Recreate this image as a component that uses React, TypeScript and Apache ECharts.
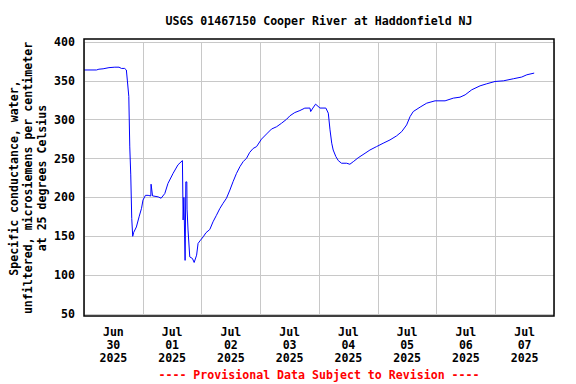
import React, { useEffect, useRef } from "react";
import * as echarts from "echarts";

const titleText = "USGS 01467150 Cooper River at Haddonfield NJ";
const yAxisTitle = "Specific conductance, water,\nunfiltered, microsiemens per centimeter\nat 25 degrees Celsius";
const footerText = "---- Provisional Data Subject to Revision ----";
const dayLabels = [
  "Jun\n30\n2025",
  "Jul\n01\n2025",
  "Jul\n02\n2025",
  "Jul\n03\n2025",
  "Jul\n04\n2025",
  "Jul\n05\n2025",
  "Jul\n06\n2025",
  "Jul\n07\n2025",
];
// hours since Jun 30 00:00
const hours = [
  0, 5.1, 6.1, 7.8, 10.2, 12.6, 14.3, 15.3, 16.6, 17.3, 17.7, 18.3, 18.7, 19.1, 19.5, 19.9,
  20.3, 21.4, 22.5, 23.5, 24.1, 25.1, 26.2, 27.3, 27.4, 28.0, 30.3, 31.5, 33.0, 34.3, 36.4,
  38.4, 40.2, 40.5, 40.8, 41.3, 41.6, 42.0, 42.1, 42.5, 43.2, 44.3, 45.0, 46.0, 46.6, 47.6,
  48.7, 49.8, 51.4, 52.7, 54.1, 55.5, 56.8, 58.2, 59.6, 60.9, 62.3, 63.7, 65.0, 66.4, 67.7,
  69.1, 70.5, 72.5, 74.6, 76.6, 78.7, 80.7, 82.8, 84.1, 86.1, 88.2, 90.2, 92.3, 92.6, 93.5,
  94.6, 96.4, 98.8, 99.8, 100.5, 101.2, 101.8, 102.9, 103.9, 105.2, 107.3, 108.6, 110.0,
  112.0, 114.8, 116.8, 119.5, 122.2, 125.0, 127.7, 129.8, 131.8, 133.2, 134.5, 137.3, 140.0,
  143.4, 147.5, 150.9, 153.6, 155.7, 158.4, 161.8, 164.5, 167.9, 171.3, 175.4, 178.8, 180.9,
  183.9,
];
const conductance = [
  364, 364, 365, 365.5, 367, 367.6, 367.6, 366, 366, 364, 351, 330, 265, 229, 173, 150,
  155, 162, 175, 186, 196.6, 202.7, 202.7, 201.8, 217, 202, 200.7, 199, 205, 218, 231,
  242, 247.4, 171, 200, 119, 220, 220, 185, 158, 123.5, 121.4, 116.3, 125.7, 140.8, 145,
  149.3, 154.5, 158.8, 168.6, 177, 185.8, 192.4, 199, 209.5, 220.3, 231, 239.6, 246, 250.4, 258,
  263, 265.4, 275, 281.7, 288, 291, 295.5, 300.7, 305, 309.2, 311.8, 314.9, 315, 310.5, 315,
  320, 315, 315, 308.4, 287, 269.8, 261, 252.5, 247.3, 244, 244, 242.7, 246,
  251, 256.8, 261, 265.4, 269.7, 274, 279.2, 284.7, 293.3, 304, 310.5, 316.2, 321.3,
  324.3, 324.3, 327.8, 329, 332, 338.5, 343.6, 346.2, 349.2, 350, 352.7, 354.9, 357.8,
  360,
];

const FONT = "'DejaVu Sans Mono', monospace";
const FS = 11.6;

export default function App() {
  const ref = useRef<HTMLDivElement>(null);
  useEffect(() => {
    if (!ref.current) return;
    const chart = echarts.init(ref.current, null, { renderer: "svg" });
    const data = hours.map((h, i) => [h, conductance[i]]);
    chart.setOption({
      animation: false,
      backgroundColor: "#ffffff",
      grid: { left: 84, right: 22, top: 42, bottom: 70, containLabel: false },
      xAxis: [
        { type: "value", min: 0, max: 192, show: false },
        {
          type: "category",
          data: dayLabels,
          boundaryGap: true,
          position: "bottom",
          axisLine: { show: false },
          axisTick: { show: false },
          axisLabel: {
            interval: 0,
            margin: 11,
            fontFamily: FONT,
            fontSize: FS,
            fontWeight: "bold",
            color: "#000",
            lineHeight: 13,
          },
          splitLine: { show: true, interval: 0, lineStyle: { color: "#c8c8c8", width: 1 } },
        },
      ],
      yAxis: {
        type: "value",
        min: 50,
        max: 400,
        interval: 50,
        axisLine: { show: false },
        axisTick: { show: false },
        axisLabel: {
          margin: 9,
          fontFamily: FONT,
          fontSize: FS,
          fontWeight: "bold",
          color: "#000",
        },
        splitLine: { show: true, lineStyle: { color: "#c8c8c8", width: 1 } },
      },
      series: [
        {
          type: "line",
          xAxisIndex: 0,
          data,
          showSymbol: false,
          symbol: "none",
          lineStyle: { color: "#0000ff", width: 1 },
        },
      ],
      graphic: [
        {
          type: "rect",
          shape: { x: 84, y: 39, width: 470, height: 277 },
          style: { fill: "none", stroke: "#000", lineWidth: 1.5 },
          z: 100,
        },
        {
          type: "text",
          x: 319,
          y: 21,
          style: {
            text: titleText,
            fontFamily: FONT,
            fontSize: FS,
            fontWeight: "bold",
            fill: "#000",
            textAlign: "center",
            textVerticalAlign: "middle",
          },
        },
        {
          type: "text",
          x: 28,
          y: 178,
          rotation: Math.PI / 2,
          style: {
            text: yAxisTitle,
            fontFamily: FONT,
            fontSize: FS,
            fontWeight: "bold",
            fill: "#000",
            textAlign: "center",
            textVerticalAlign: "middle",
            lineHeight: 14,
          },
        },
        {
          type: "text",
          x: 319,
          y: 375,
          style: {
            text: footerText,
            fontFamily: FONT,
            fontSize: FS,
            fontWeight: "bold",
            fill: "#ff0000",
            textAlign: "center",
            textVerticalAlign: "middle",
          },
        },
      ],
    });
    return () => chart.dispose();
  }, []);
  return <div ref={ref} style={{ width: 576, height: 384, position: "absolute", left: 0, top: 0 }} />;
}
